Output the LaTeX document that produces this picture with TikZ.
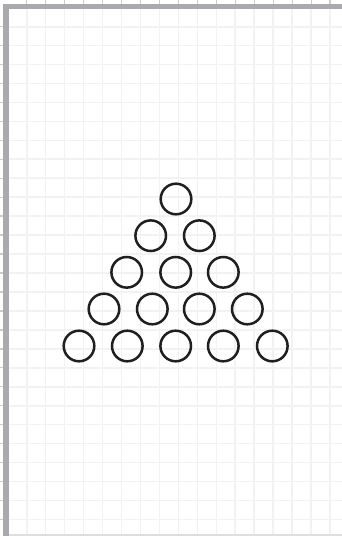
\documentclass[tikz,border=0pt]{standalone}
\begin{document}
\begin{tikzpicture}[x=1pt,y=-1pt,
  ball/.style={circle,draw=black!88,line width=2.5pt,minimum size=30.6pt,inner sep=0pt},
  gridline/.style={draw=black!5,line width=1.7pt},
  tick/.style={draw=black!20,line width=1.4pt}]
\useasboundingbox (0,0) rectangle (342,536);
\fill[white] (0,0) rectangle (342,536);
% grid
\foreach \k in {1,...,17} {
  \draw[gridline] ({7.7+18.97*\k},9) -- ({7.7+18.97*\k},536);
  \draw[tick] ({7.7+18.97*\k},0) -- ({7.7+18.97*\k},4);
}
\foreach \k in {1,...,27} {
  \draw[gridline] (8,{7.7+18.95*\k}) -- (342,{7.7+18.95*\k});
  \draw[tick] (0,{7.7+18.95*\k}) -- (3,{7.7+18.95*\k});
}
% frame
\fill[color={rgb,255:red,169;green,169;blue,174}] (3,4) rectangle (342,9.3);
\fill[color={rgb,255:red,169;green,169;blue,174}] (3,4) rectangle (8.5,536);
\fill[black!13] (8.5,534.4) rectangle (342,536);
% balls
\node[ball] (c1) at (176,199) {};
\node[ball] (c21) at (150.7,235.7) {};
\node[ball] (c22) at (199.3,235.7) {};
\node[ball] (c31) at (126.7,272.3) {};
\node[ball] (c32) at (175.7,272.3) {};
\node[ball] (c33) at (223.3,272.3) {};
\node[ball] (c41) at (104,309) {};
\node[ball] (c42) at (152.3,309) {};
\node[ball] (c43) at (199.3,309) {};
\node[ball] (c44) at (247.3,309) {};
\node[ball] (c51) at (79,346) {};
\node[ball] (c52) at (127.3,346) {};
\node[ball] (c53) at (175.7,346) {};
\node[ball] (c54) at (223.3,346) {};
\node[ball] (c55) at (272.3,346) {};
\end{tikzpicture}
\end{document}
